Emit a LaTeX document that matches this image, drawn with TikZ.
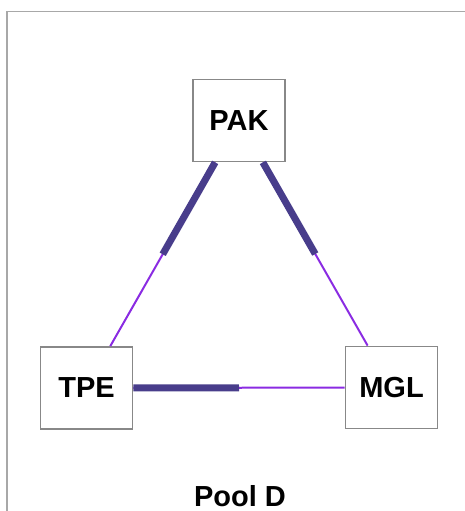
\documentclass[tikz,border=0pt]{standalone}
\usepackage{fontspec}
\setmainfont{Liberation Sans}
\usepackage{tikz}
\usetikzlibrary{calc,positioning}
\definecolor{strongcol}{HTML}{483D8B}
\definecolor{weakcol}{HTML}{8A2BE2}
\definecolor{boxgray}{HTML}{888888}
\definecolor{framegray}{HTML}{A8A8A8}
\tikzset{
  country/.style={
    rectangle,
    draw=boxgray, line width=1.8pt,
    fill=white,
    minimum width=92pt,
    minimum height=82pt,
    inner sep=0pt,
    font=\fontsize{29}{34}\selectfont\bfseries,
    text centered},
  weak/.style={draw=weakcol, line width=2pt},
  strong/.style={draw=strongcol, line width=7pt},
}

\begin{document}
\begin{tikzpicture}[
    x=1pt, y=-1pt,
    frame line/.style={draw=framegray, line width=1.5pt},
    caption/.style={font=\fontsize{29}{34}\selectfont\bfseries, inner sep=0pt}
    ]
    \useasboundingbox (0,0) rectangle (465,511);

    %frame
    \draw[frame line] (7,520) -- (7,11.5) -- (470,11.5);

    %countries
    \node[country] (pak) at (239,120.5) {PAK};
    \node[country] (tpe) at (86.5,388) {TPE};
    \node[country] (mgl) at (391.5,387.5) {MGL};

    %links
    \draw[weak] (pak) -- (tpe) coordinate[midway] (pt);
    \draw[weak] (pak) -- (mgl) coordinate[midway] (pm);
    \draw[weak] (tpe) -- (mgl) coordinate[midway] (tm);
    \draw[strong] (pak) -- (pt);
    \draw[strong] (pak) -- (pm);
    \draw[strong] (tpe) -- (tm);

    %pool name
    \node[caption] (pool) at (240,496) {Pool D};

\end{tikzpicture}
\end{document}
